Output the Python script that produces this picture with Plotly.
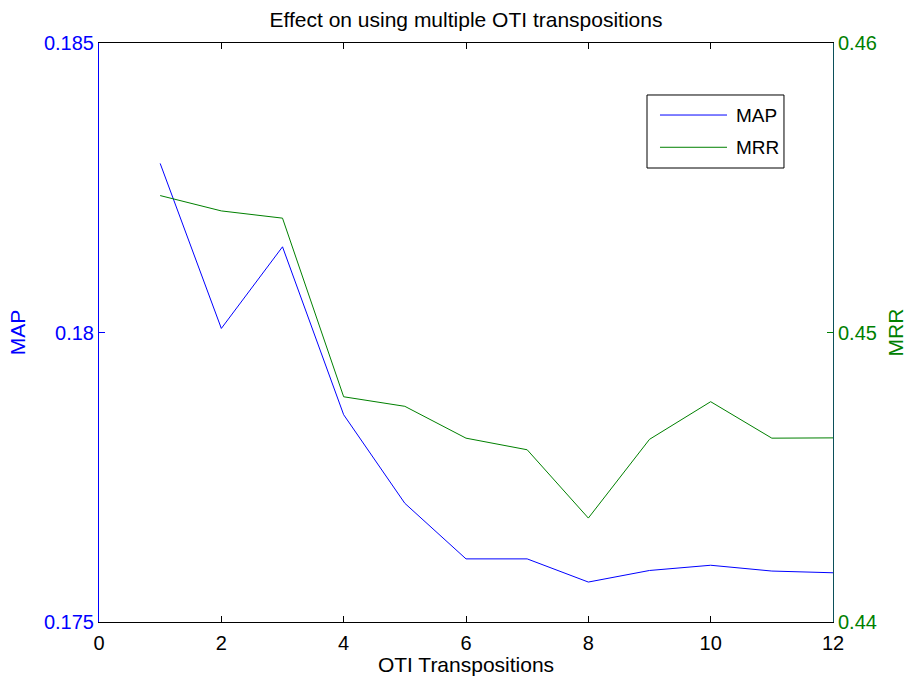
import plotly.graph_objects as go

# Number of OTI transpositions used
transpositions = [1, 2, 3, 4, 5, 6, 7, 8, 9, 10, 11, 12]
# Mean average precision per setting
map_values = [0.18292, 0.18007, 0.18148, 0.17858, 0.17705, 0.17609,
              0.17609, 0.17569, 0.17589, 0.17598, 0.17588, 0.17585]
# Mean reciprocal rank per setting
mrr_values = [0.45473, 0.45420, 0.45395, 0.44778, 0.44745, 0.44635,
              0.44595, 0.44359, 0.44631, 0.44761, 0.44635, 0.44636]

x_ticks = [0, 2, 4, 6, 8, 10, 12]
map_ticks = [0.175, 0.18, 0.185]
map_tick_text = ["0.175", "0.18", "0.185"]
mrr_ticks = [0.44, 0.45, 0.46]
mrr_tick_text = ["0.44", "0.45", "0.46"]

BLUE = "#0000ff"
GREEN = "#008000"
FONT = "Liberation Sans, Arial, sans-serif"

fig = go.Figure()
fig.add_trace(go.Scatter(x=transpositions, y=map_values, name="MAP", mode="lines",
                         line=dict(color=BLUE, width=1), yaxis="y"))
fig.add_trace(go.Scatter(x=transpositions, y=mrr_values, name="MRR", mode="lines",
                         line=dict(color=GREEN, width=1), yaxis="y2"))

fig.update_layout(
    template="none",
    width=907, height=676,
    margin=dict(l=99, r=74, t=43, b=54, autoexpand=False),
    paper_bgcolor="white", plot_bgcolor="white",
    showlegend=False,
    font=dict(family=FONT, size=20, color="black"),
    title=dict(text="Effect on using multiple OTI transpositions",
               x=0.5, xref="paper", xanchor="center", y=0.971, yanchor="middle",
               font=dict(size=21, color="black")),
    xaxis=dict(range=[0, 12], tickvals=x_ticks, ticks="inside", ticklen=6,
               tickcolor="black", showline=True, linecolor="black", linewidth=1,
               mirror="ticks", showgrid=False, zeroline=False, automargin=False,
               ticklabelstandoff=3,
               tickfont=dict(size=20, color="black"),
               title=dict(text="OTI Transpositions", font=dict(size=21), standoff=5)),
    yaxis=dict(range=[0.175, 0.185], tickvals=map_ticks, ticktext=map_tick_text,
               ticks="inside", ticklen=6, tickcolor=BLUE, showline=True,
               linecolor=BLUE, linewidth=1, showgrid=False, zeroline=False,
               automargin=False,
               tickfont=dict(size=20, color=BLUE),
               title=dict(text="MAP", font=dict(size=21, color=BLUE), standoff=12)),
    yaxis2=dict(range=[0.44, 0.46], tickvals=mrr_ticks, ticktext=mrr_tick_text,
                overlaying="y", side="right", anchor="x",
                ticks="inside", ticklen=6, tickcolor=GREEN, showline=True,
                linecolor="#0b4f5a", linewidth=1, showgrid=False, zeroline=False,
                automargin=False,
                tickfont=dict(size=20, color=GREEN),
                title=dict(text="MRR", font=dict(size=21, color=GREEN), standoff=12)),
)

# Boxed legend with long line samples
legend_box = dict(x0=0.7466, x1=0.9332, y0=0.7841, y1=0.9102)
fig.add_shape(type="rect", xref="paper", yref="paper", **legend_box,
              line=dict(color="black", width=1), fillcolor="white", layer="above")
legend_rows = [("MAP", BLUE, 0.8756), ("MRR", GREEN, 0.8199)]
for label, color, ypos in legend_rows:
    fig.add_shape(type="line", xref="paper", yref="paper",
                  x0=0.7643, x1=0.8556, y0=ypos, y1=ypos,
                  line=dict(color=color, width=1), layer="above")
    fig.add_annotation(text=label, xref="paper", yref="paper", x=0.8651, y=ypos,
                       xanchor="left", yanchor="middle", showarrow=False,
                       font=dict(size=19, color="black"))

fig.write_html("out.html")
